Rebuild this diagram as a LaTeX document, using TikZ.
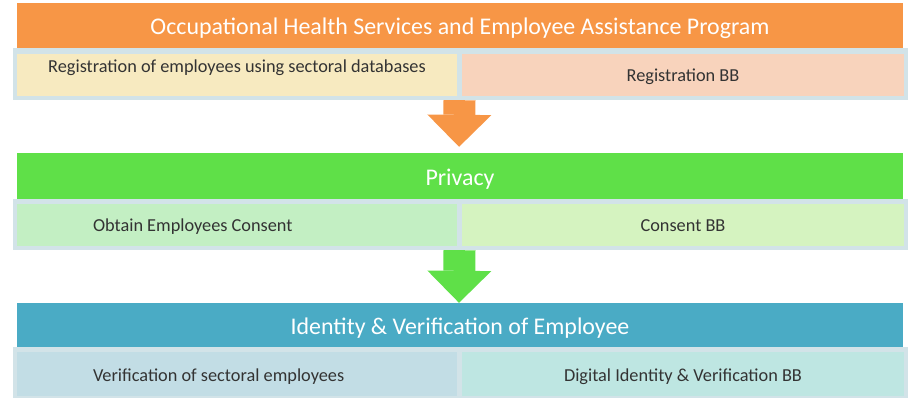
\documentclass[tikz,border=0pt]{standalone}
\usepackage{fontspec}
\setmainfont{Carlito}
\usetikzlibrary{arrows.meta}
\definecolor{hOrange}{HTML}{F79646}
\definecolor{hGreen}{HTML}{5FE048}
\definecolor{hBlue}{HTML}{4AABC5}
\definecolor{frameC}{HTML}{D2E3E8}
\definecolor{cYellow}{HTML}{F7EAC0}
\definecolor{cPeach}{HTML}{F8D3BC}
\definecolor{cGreenA}{HTML}{C3EFC3}
\definecolor{cGreenB}{HTML}{D5F3C0}
\definecolor{cBlueA}{HTML}{C2DDE5}
\definecolor{cBlueB}{HTML}{BEE6E2}
\definecolor{txt}{HTML}{333333}
\tikzset{
  header/.style={fill=#1, draw=none, minimum width=886pt, minimum height=45pt, inner sep=0pt,
    text=white, font=\fontsize{23.9}{28}\selectfont, text height=20pt, text depth=1pt},
  frame/.style={fill=frameC, draw=none, minimum width=895pt, minimum height=52pt, inner sep=0pt},
  cell/.style={fill=#1, draw=none, minimum height=42pt, inner ysep=0pt, text=txt,
    font=\fontsize{18.3}{22}\selectfont, text height=15pt, text depth=1pt},
  lcell/.style={cell=#1, text width=288pt, inner xsep=76pt, align=flush left},
  rcell/.style={cell=#1, minimum width=442pt, inner xsep=0pt},
  flow/.style={draw=#1, line width=32pt,
    -{Triangle[width=64pt,length=32pt,line width=0pt,fill=#1]}}
}
\begin{document}
\begin{tikzpicture}[x=1pt,y=-1pt]
\useasboundingbox (0,0) rectangle (913,398);
% row 1
\node[header=hOrange] (h1) at (460,25.5) {Occupational Health Services and Employee Assistance Program};
\node[frame] (f1) at (460.5,74) {};
\node[cell=cYellow, minimum width=440pt, inner xsep=0pt, text depth=19pt] (c1a) at (237,75) {Registration of employees using sectoral databases};
\node[rcell=cPeach] (c1b) at (683,75) {Registration BB};
% row 2
\node[header=hGreen, minimum height=46pt] (h2) at (460,176) {Privacy};
\node[frame, minimum height=51pt] (f2) at (460.5,224.5) {};
\node[lcell=cGreenA] (c2a) at (237,225) {Obtain Employees Consent};
\node[rcell=cGreenB] (c2b) at (683,225) {Consent BB};
% row 3
\node[header=hBlue, minimum height=44pt] (h3) at (460,325) {Identity \& Verification of Employee};
\node[frame, minimum height=51pt] (f3) at (460.5,372.5) {};
\node[lcell=cBlueA, minimum height=44pt] (c3a) at (237,374) {Verification of sectoral employees};
\node[rcell=cBlueB, minimum height=44pt] (c3b) at (683,374) {Digital Identity \& Verification BB};
% arrows
\draw[flow=hOrange, shorten >=6pt] ([xshift=-1pt]f1.south) -- ([xshift=-1pt]h2.north);
\draw[flow=hGreen] ([xshift=-1pt]f2.south) -- ([xshift=-1pt]h3.north);
\end{tikzpicture}
\end{document}
